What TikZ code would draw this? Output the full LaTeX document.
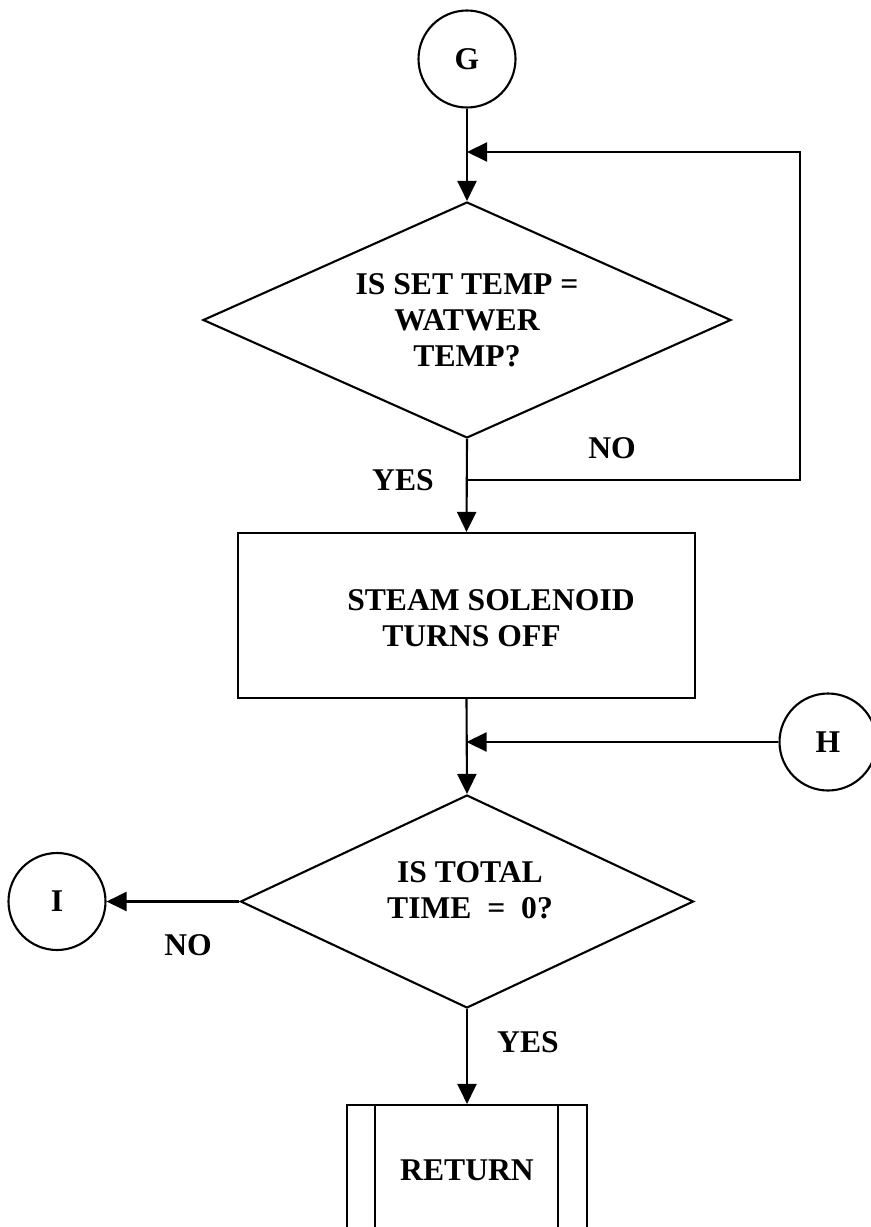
\documentclass[tikz,border=0pt]{standalone}
\usepackage{fontspec}
\setmainfont{Liberation Serif}
\usetikzlibrary{shapes.geometric,arrows.meta}
\tikzset{
	decision/.style  = {draw, diamond, aspect=2.2, inner sep=0pt, align=center},
	process/.style   = {draw, rectangle, inner sep=0pt},
	connector/.style = {draw, circle, minimum size=1.94cm, inner sep=0pt},
	answer/.style    = {inner sep=0pt}, % YES / NO
	junction/.style  = {coordinate}
}
\newcommand{\flowfont}{\bfseries\fontsize{18}{20.5}\selectfont}

\begin{document}
\begin{tikzpicture}[line width=1.2pt, >={Triangle[length=0.4cm,width=0.38cm]}, font=\flowfont]
\useasboundingbox (0,0) rectangle (17.42,-24.54);
\draw
% connectors and blocks
node at (9.34,-1.18)[connector] (G) {G}
node at (9.34,-6.4)[decision, minimum width=10.56cm, minimum height=4.72cm] (settemp) {IS SET TEMP =\\WATWER\\TEMP?}
node at (9.33,-12.31)[process, minimum width=9.14cm, minimum height=3.3cm] (steam) {}
node at (9.82,-12.37)[align=left] (steamtxt) {STEAM SOLENOID\\\hspace*{0.7cm}TURNS OFF}
node at (16.56,-14.84)[connector] (H) {H}
node at (9.34,-18.03)[decision, minimum width=9.06cm, minimum height=4.26cm] (totaltime) {}
node at (9.4,-17.8)[align=center] (totaltxt) {IS TOTAL\\TIME \ = \ 0?}
node at (1.14,-18.03)[connector] (I) {I}
node at (9.34,-23.4)[process, minimum width=4.8cm, minimum height=2.6cm] (ret) {RETURN};

% answers
\draw
node at (8.06,-9.6)[answer] (yes1) {YES}
node at (12.24,-8.96)[answer] (no1) {NO}
node at (3.76,-18.9)[answer] (no2) {NO}
node at (10.56,-20.84)[answer] (yes2) {YES};

\coordinate (gjoin) at (9.34,-3.04);
\coordinate (nojoin) at (9.34,-9.6);
\coordinate (loopturn) at (16.0,-3.04);
\coordinate (hjoin) at (H.west -| steam.south);

\draw[->] (G) -- (settemp.north);
\draw[->] (nojoin) -| (loopturn) -- (gjoin);
\draw[->] (settemp.south) -- (steam.north);
\draw[->] (steam.south) -- (totaltime.north);
\draw[->] (H) -- (hjoin);
\draw[->] (totaltime.west) -- (I);
\draw[->] (totaltime.south) -- (ret.north);
\draw ([xshift=0.58cm]ret.north west) -- ([xshift=0.58cm]ret.south west)
      ([xshift=-0.6cm]ret.north east) -- ([xshift=-0.6cm]ret.south east);
\end{tikzpicture}
\end{document}
